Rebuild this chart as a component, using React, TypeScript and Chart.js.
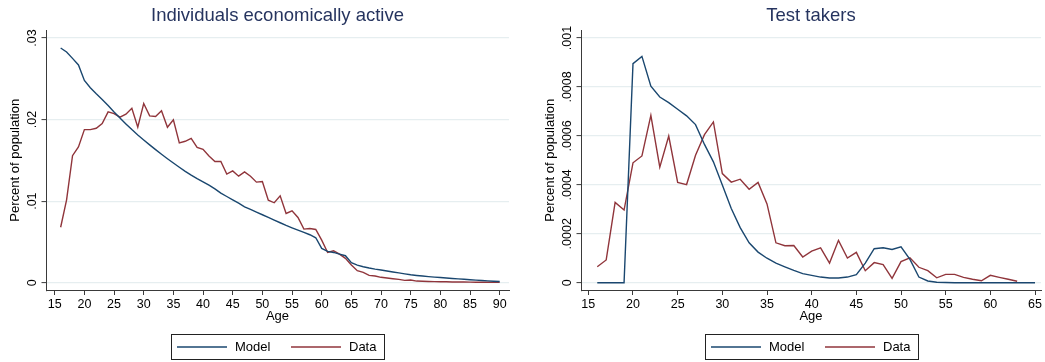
import React, { useEffect, useRef } from "react";
import { Chart, registerables } from "chart.js";

Chart.register(...registerables);

// ---------- data ----------
const activeAges = [
  16, 17, 18, 19, 20, 21, 22, 23, 24, 25, 26, 27, 28, 29, 30, 31, 32, 33, 34, 35,
  36, 37, 38, 39, 40, 41, 42, 43, 44, 45, 46, 47, 48, 49, 50, 51, 52, 53, 54, 55,
  56, 57, 58, 59, 60, 61, 62, 63, 64, 65, 66, 67, 68, 69, 70, 71, 72, 73, 74, 75,
  76, 77, 78, 79, 80, 81, 82, 83, 84, 85, 86, 87, 88, 89, 90,
];
const activeModel = [
  0.02877, 0.02828, 0.0275, 0.0267, 0.0248, 0.0239, 0.02316, 0.02246, 0.02172, 0.02094,
  0.0202, 0.01947, 0.01877, 0.01811, 0.0175, 0.0169, 0.01632, 0.01575, 0.0152, 0.01467,
  0.01415, 0.01365, 0.01318, 0.01275, 0.01237, 0.01196, 0.01151, 0.01098, 0.01057, 0.01016,
  0.00976, 0.00931, 0.00898, 0.00865, 0.00833, 0.008, 0.00767, 0.00735, 0.00702, 0.00673,
  0.00645, 0.00616, 0.00588, 0.00551, 0.0042, 0.00384, 0.00371, 0.00351, 0.00331, 0.00245,
  0.00216, 0.00196, 0.0018, 0.00167, 0.00156, 0.00143, 0.00131, 0.0012, 0.00108, 0.00097,
  0.00089, 0.00082, 0.00075, 0.00069, 0.00063, 0.00057, 0.00052, 0.00047, 0.00042, 0.00037,
  0.00032, 0.00027, 0.00023, 0.00018, 0.00014,
];
const activeData = [
  0.0068, 0.01016, 0.01557, 0.01664, 0.01877, 0.01877, 0.01893, 0.01951, 0.02094, 0.02074,
  0.02029, 0.02066, 0.02139, 0.01906, 0.02197, 0.02045, 0.02037, 0.02107, 0.01906, 0.01996,
  0.01713, 0.01734, 0.0177, 0.0166, 0.01635, 0.01553, 0.01486, 0.01486, 0.01331, 0.01371,
  0.01306, 0.01359, 0.01306, 0.01233, 0.01241, 0.01012, 0.0098, 0.01065, 0.00849, 0.00882,
  0.008, 0.00657, 0.00665, 0.00653, 0.00522, 0.00371, 0.00392, 0.00351, 0.00298, 0.00216,
  0.00147, 0.00127, 0.0009, 0.00082, 0.00066, 0.00057, 0.00049, 0.00041, 0.00029, 0.00033,
  0.0002, 0.00018, 0.00015, 0.00013, 0.00012, 0.00011, 0.00009, 0.00009, 0.00008, 0.00007,
  0.00006, 0.00006, 0.00005, 0.00005, 0.00004,
];

const testModelAges = [
  16, 17, 18, 19, 20, 21, 22, 23, 24, 25, 26, 27, 28, 29, 30, 31, 32, 33, 34, 35,
  36, 37, 38, 39, 40, 41, 42, 43, 44, 45, 46, 47, 48, 49, 50, 51, 52, 53, 54, 55,
  56, 57, 58, 59, 60, 61, 62, 63, 64, 65,
];
const testModel = [
  0, 0, 0, 0, 0.000895, 0.000925, 0.000803, 0.000759, 0.000736, 0.000709,
  0.000682, 0.000646, 0.000565, 0.000494, 0.000399, 0.000303, 0.000225, 0.000163, 0.000125, 0.0001,
  0.00008, 0.000065, 0.00005, 0.000037, 0.00003, 0.000023, 0.000019, 0.000019, 0.000023, 0.000033,
  0.00008, 0.000139, 0.000143, 0.000136, 0.000147, 0.000095, 0.000023, 0.000007, 0.000002, 0.000001,
  0, 0, 0, 0, 0, 0, 0, 0, 0, 0,
];
const testDataAges = [
  16, 17, 18, 19, 20, 21, 22, 23, 24, 25, 26, 27, 28, 29, 30, 31, 32, 33, 34, 35,
  36, 37, 38, 39, 40, 41, 42, 43, 44, 45, 46, 47, 48, 49, 50, 51, 52, 53, 54, 55,
  56, 57, 58, 59, 60, 61, 62, 63,
];
const testData = [
  0.000065, 0.000093, 0.000328, 0.000297, 0.00049, 0.000518, 0.000684, 0.000472, 0.000599, 0.00041,
  0.000401, 0.000521, 0.000605, 0.000657, 0.000446, 0.000411, 0.000423, 0.000382, 0.00041, 0.000322,
  0.000163, 0.000151, 0.000152, 0.000105, 0.000129, 0.000142, 0.00008, 0.000173, 0.000101, 0.000124,
  0.000049, 0.000082, 0.000074, 0.000018, 0.000086, 0.000102, 0.000063, 0.000049, 0.00002, 0.000034,
  0.000034, 0.000022, 0.000014, 0.000008, 0.00003, 0.000022, 0.000014, 0.000006,
];

const activeXTicks = [15, 20, 25, 30, 35, 40, 45, 50, 55, 60, 65, 70, 75, 80, 85, 90];
const activeYTicks = [0, 0.01, 0.02, 0.03];
const activeYLabels = ["0", ".01", ".02", ".03"];

const testXTicks = [15, 20, 25, 30, 35, 40, 45, 50, 55, 60, 65];
const testYTicks = [0, 0.0002, 0.0004, 0.0006, 0.0008, 0.001];
const testYLabels = ["0", ".0002", ".0004", ".0006", ".0008", ".001"];

const seriesNames = ["Model", "Data"];

// ---------- style ----------
const FAMILY = "'Liberation Sans', Arial, Helvetica, sans-serif";
const MODEL_COLOR = "#1a476f";
const DATA_COLOR = "#90353b";
const TITLE_COLOR = "#26345f";
const AXIS_COLOR = "#3a3a3a";
const GRID_COLOR = "#e6eef0";

const decorPlugin = {
  id: "stataDecor",
  afterDraw(chart: any, _args: any, opts: any) {
    const ctx = chart.ctx as CanvasRenderingContext2D;
    const area = chart.chartArea;
    const yScale = chart.scales.y;
    const cx = (area.left + area.right) / 2;
    ctx.save();
    // title centred over the plot region
    ctx.fillStyle = TITLE_COLOR;
    ctx.font = `18.5px ${FAMILY}`;
    ctx.textAlign = "center";
    ctx.textBaseline = "middle";
    ctx.fillText(opts.title, cx, 15.5);
    // rotated y tick labels
    ctx.fillStyle = "#000";
    ctx.font = `12.5px ${FAMILY}`;
    ctx.textAlign = "center";
    ctx.textBaseline = "alphabetic";
    (opts.yTicks as number[]).forEach((v, i) => {
      const py = yScale.getPixelForValue(v);
      ctx.save();
      ctx.translate(area.left - 10.5, py);
      ctx.rotate(-Math.PI / 2);
      ctx.fillText(opts.yLabels[i], 0, 0);
      ctx.restore();
    });
    // legend box
    const boxW = 213;
    const boxH = 25;
    const boxL = Math.round(cx - boxW / 2);
    const boxT = 334;
    ctx.strokeStyle = "#222";
    ctx.lineWidth = 1;
    ctx.strokeRect(boxL + 0.5, boxT + 0.5, boxW, boxH);
    const midY = boxT + 13;
    const ds = chart.data.datasets;
    const offsets = [6, 120];
    ctx.font = `13px ${FAMILY}`;
    ctx.textAlign = "left";
    ctx.textBaseline = "middle";
    ds.forEach((d: any, i: number) => {
      const lx = boxL + offsets[i];
      ctx.strokeStyle = d.borderColor;
      ctx.lineWidth = 1.4;
      ctx.beginPath();
      ctx.moveTo(lx, midY);
      ctx.lineTo(lx + 50, midY);
      ctx.stroke();
      ctx.fillStyle = "#000";
      ctx.fillText(d.label, lx + 58, midY + 0.5);
    });
    ctx.restore();
  },
};

type PanelProps = {
  left: number;
  width: number;
  padRight: number;
  title: string;
  modelAges: number[];
  modelVals: number[];
  dataAges: number[];
  dataVals: number[];
  xTicks: number[];
  xMin: number;
  xMax: number;
  yTicks: number[];
  yLabels: string[];
  yMin: number;
  yMax: number;
};

function Panel(p: PanelProps) {
  const ref = useRef<HTMLCanvasElement | null>(null);
  useEffect(() => {
    if (!ref.current) return;
    Chart.defaults.font.family = FAMILY;
    const chart = new Chart(ref.current, {
      type: "line",
      data: {
        datasets: [
          {
            label: seriesNames[0],
            data: p.modelAges.map((a, i) => ({ x: a, y: p.modelVals[i] })),
            borderColor: MODEL_COLOR,
            backgroundColor: MODEL_COLOR,
            borderWidth: 1.4,
            pointRadius: 0,
            tension: 0,
          },
          {
            label: seriesNames[1],
            data: p.dataAges.map((a, i) => ({ x: a, y: p.dataVals[i] })),
            borderColor: DATA_COLOR,
            backgroundColor: DATA_COLOR,
            borderWidth: 1.4,
            pointRadius: 0,
            tension: 0,
          },
        ],
      },
      options: {
        responsive: false,
        maintainAspectRatio: false,
        animation: false,
        events: [],
        layout: { padding: { left: 0, right: p.padRight, top: 30, bottom: 37.5 } },
        plugins: {
          legend: { display: false },
          tooltip: { enabled: false },
          title: { display: false },
          stataDecor: { title: p.title, yTicks: p.yTicks, yLabels: p.yLabels },
        } as any,
        scales: {
          x: {
            type: "linear",
            min: p.xMin,
            max: p.xMax,
            afterBuildTicks: (s: any) => {
              s.ticks = p.xTicks.map((v) => ({ value: v }));
            },
            afterFit: (s: any) => {
              s.height = 34;
              s.paddingLeft = 0;
              s.paddingRight = 0;
            },
            ticks: {
              autoSkip: false,
              maxRotation: 0,
              minRotation: 0,
              padding: 2.5,
              color: "#000",
              font: { size: 12.5, family: FAMILY },
              callback: (v: any) => String(v),
            },
            grid: {
              drawOnChartArea: false,
              drawTicks: true,
              tickLength: 4.5,
              tickColor: AXIS_COLOR,
              tickWidth: 1,
              color: AXIS_COLOR,
            },
            border: { display: true, color: AXIS_COLOR, width: 1 },
            title: {
              display: true,
              text: "Age",
              color: "#000",
              font: { size: 13, family: FAMILY },
              padding: { top: 0, bottom: 0 },
            },
          },
          y: {
            type: "linear",
            min: p.yMin,
            max: p.yMax,
            afterBuildTicks: (s: any) => {
              s.ticks = p.yTicks.map((v) => ({ value: v }));
            },
            afterFit: (s: any) => {
              s.width = 46;
              s.paddingTop = 0;
              s.paddingBottom = 0;
            },
            ticks: { display: false },
            grid: {
              drawOnChartArea: true,
              drawTicks: true,
              tickLength: 4.5,
              tickColor: AXIS_COLOR,
              tickWidth: 1,
              color: GRID_COLOR,
              lineWidth: 1.2,
            },
            border: { display: true, color: AXIS_COLOR, width: 1 },
            title: {
              display: true,
              text: "Percent of population",
              color: "#000",
              font: { size: 13, family: FAMILY },
              padding: { top: 7.5, bottom: 0 },
            },
          },
        },
      } as any,
      plugins: [decorPlugin],
    });
    return () => chart.destroy();
  }, []);
  return (
    <canvas
      ref={ref}
      width={p.width}
      height={362}
      style={{ position: "absolute", left: p.left, top: 0, width: p.width, height: 362 }}
    />
  );
}

export default function App() {
  return (
    <div
      style={{
        position: "absolute",
        left: 0,
        top: 0,
        width: 1045,
        height: 362,
        background: "#fff",
        overflow: "hidden",
      }}
    >
      <Panel
        left={0}
        width={520}
        padRight={11}
        title="Individuals economically active"
        modelAges={activeAges}
        modelVals={activeModel}
        dataAges={activeAges}
        dataVals={activeData}
        xTicks={activeXTicks}
        xMin={13.53}
        xMax={91.57}
        yTicks={activeYTicks}
        yLabels={activeYLabels}
        yMin={-0.000956}
        yMax={0.030981}
      />
      <Panel
        left={535}
        width={510}
        padRight={4}
        title="Test takers"
        modelAges={testModelAges}
        modelVals={testModel}
        dataAges={testDataAges}
        dataVals={testData}
        xTicks={testXTicks}
        xMin={14.18}
        xMax={65.67}
        yTicks={testYTicks}
        yLabels={testYLabels}
        yMin={-0.0000319}
        yMax={0.0010327}
      />
    </div>
  );
}
